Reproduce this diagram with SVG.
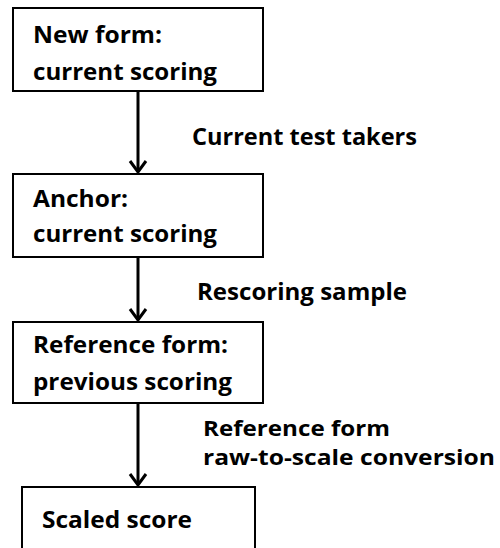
<svg xmlns="http://www.w3.org/2000/svg" width="500" height="548" viewBox="0 0 500 548">
<style>
.box{fill:#fff;stroke:#000;stroke-width:2}
.t{font-family:"Open Sans","Liberation Sans",sans-serif;font-weight:700;font-size:23px;fill:#000}
.s{font-size:21px}
.edge{stroke:#000;stroke-width:3;fill:none}
</style>
<defs>
<marker id="ah" markerUnits="userSpaceOnUse" viewBox="-14 -10 16 20" refX="0" refY="0" markerWidth="16" markerHeight="20" orient="auto" overflow="visible">
<path d="M-11,-8 L0,0 L-11,8" fill="none" stroke="#000" stroke-width="3"/>
</marker>
</defs>
<rect width="500" height="548" fill="#fff"/>
<g id="connectors">
<line class="edge" x1="138" y1="92" x2="138" y2="172" marker-end="url(#ah)"/>
<line class="edge" x1="138" y1="258" x2="138" y2="320" marker-end="url(#ah)"/>
<line class="edge" x1="138" y1="404" x2="138" y2="485" marker-end="url(#ah)"/>
<text class="t" x="192" y="145" textLength="225" lengthAdjust="spacingAndGlyphs">Current test takers</text>
<text class="t" x="197" y="300" textLength="210" lengthAdjust="spacingAndGlyphs">Rescoring sample</text>
<text class="t s" x="203" y="436" textLength="187" lengthAdjust="spacingAndGlyphs">Reference form</text>
<text class="t s" x="203" y="465" textLength="292" lengthAdjust="spacingAndGlyphs">raw-to-scale conversion</text>
</g>
<g id="node1">
<rect class="box" x="13" y="8" width="250" height="83"/>
<text class="t" x="33" y="43" textLength="129" lengthAdjust="spacingAndGlyphs">New form:</text>
<text class="t" x="33" y="80" textLength="184" lengthAdjust="spacingAndGlyphs">current scoring</text>
</g>
<g id="node2">
<rect class="box" x="13" y="174" width="250" height="83"/>
<text class="t" x="33" y="207" textLength="95" lengthAdjust="spacingAndGlyphs">Anchor:</text>
<text class="t" x="33" y="242" textLength="184" lengthAdjust="spacingAndGlyphs">current scoring</text>
</g>
<g id="node3">
<rect class="box" x="13" y="322" width="250" height="81"/>
<text class="t" x="33" y="353" textLength="195" lengthAdjust="spacingAndGlyphs">Reference form:</text>
<text class="t" x="33" y="390" textLength="199" lengthAdjust="spacingAndGlyphs">previous scoring</text>
</g>
<g id="node4">
<rect class="box" x="22" y="487" width="233" height="80"/>
<text class="t" x="42" y="528" textLength="150" lengthAdjust="spacingAndGlyphs">Scaled score</text>
</g>
</svg>
